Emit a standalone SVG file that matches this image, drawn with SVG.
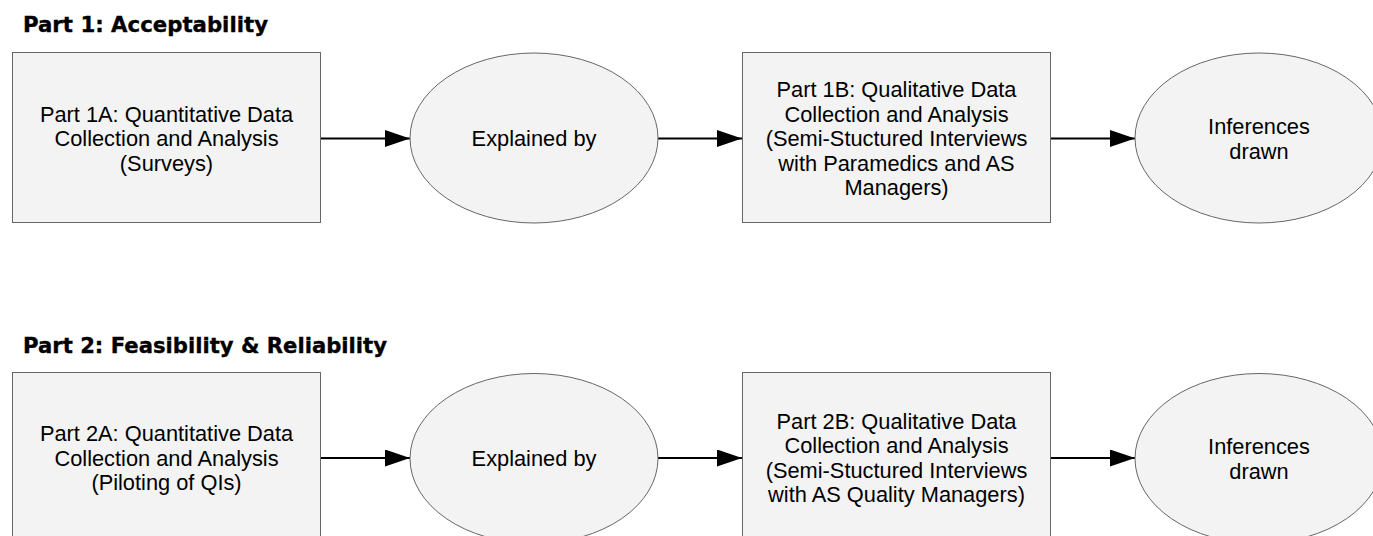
<svg xmlns="http://www.w3.org/2000/svg" width="1373" height="536" viewBox="0 0 1373 536">
<style>
.bg{fill:#ffffff}
.node{fill:#f3f3f3;stroke:#666666;stroke-width:1}
.lbl{font-family:"Liberation Sans",Arial,sans-serif;font-size:21.8px;fill:#000;text-anchor:middle}
.title{font-family:"DejaVu Sans","Liberation Sans",sans-serif;font-weight:bold;font-size:21.5px;fill:#000;stroke:#000;stroke-width:0.35}
.conn{stroke:#000;stroke-width:2;fill:none;marker-end:url(#ah)}
</style>
<defs>
<marker id="ah" markerUnits="userSpaceOnUse" markerWidth="25" markerHeight="17" refX="25" refY="8.5" orient="auto">
<path d="M0,0 L25,8.5 L0,17 z" fill="#000"/>
</marker>
</defs>
<rect class="bg" x="0" y="0" width="1373" height="536"/>
<text class="title" x="23" y="32" textLength="245" lengthAdjust="spacingAndGlyphs">Part 1: Acceptability</text>
<text class="title" x="23" y="353" textLength="364" lengthAdjust="spacingAndGlyphs">Part 2: Feasibility &amp; Reliability</text>
<g id="connectors">
<line class="conn" x1="320.5" y1="138.5" x2="410" y2="138.5"/>
<line class="conn" x1="658" y1="138.5" x2="742" y2="138.5"/>
<line class="conn" x1="1050.5" y1="138.5" x2="1135" y2="138.5"/>
<line class="conn" x1="320.5" y1="458" x2="410" y2="458"/>
<line class="conn" x1="658" y1="458" x2="742" y2="458"/>
<line class="conn" x1="1050.5" y1="458" x2="1135" y2="458"/>
</g>
<g id="part1a">
<rect class="node" x="12.5" y="52.5" width="308" height="170"/>
<text class="lbl" x="166.5" y="121.5">Part 1A: Quantitative Data</text>
<text class="lbl" x="166.5" y="146">Collection and Analysis</text>
<text class="lbl" x="166.5" y="170.5">(Surveys)</text>
</g>
<g id="explained1">
<ellipse class="node" cx="534" cy="138" rx="124" ry="85"/>
<text class="lbl" x="534" y="146">Explained by</text>
</g>
<g id="part1b">
<rect class="node" x="742.5" y="52.5" width="308" height="170"/>
<text class="lbl" x="896.5" y="97">Part 1B: Qualitative Data</text>
<text class="lbl" x="896.5" y="121.5">Collection and Analysis</text>
<text class="lbl" x="896.5" y="146">(Semi-Stuctured Interviews</text>
<text class="lbl" x="896.5" y="170.5">with Paramedics and AS</text>
<text class="lbl" x="896.5" y="195">Managers)</text>
</g>
<g id="inferences1">
<ellipse class="node" cx="1259" cy="138" rx="124" ry="85"/>
<text class="lbl" x="1259" y="134">Inferences</text>
<text class="lbl" x="1259" y="158.5">drawn</text>
</g>
<g id="part2a">
<rect class="node" x="12.5" y="372.5" width="308" height="170"/>
<text class="lbl" x="166.5" y="441">Part 2A: Quantitative Data</text>
<text class="lbl" x="166.5" y="465.5">Collection and Analysis</text>
<text class="lbl" x="166.5" y="490">(Piloting of QIs)</text>
</g>
<g id="explained2">
<ellipse class="node" cx="534" cy="458.5" rx="124" ry="85"/>
<text class="lbl" x="534" y="466">Explained by</text>
</g>
<g id="part2b">
<rect class="node" x="742.5" y="372.5" width="308" height="170"/>
<text class="lbl" x="896.5" y="428.5">Part 2B: Qualitative Data</text>
<text class="lbl" x="896.5" y="453">Collection and Analysis</text>
<text class="lbl" x="896.5" y="477.5">(Semi-Stuctured Interviews</text>
<text class="lbl" x="896.5" y="502">with AS Quality Managers)</text>
</g>
<g id="inferences2">
<ellipse class="node" cx="1259" cy="458.5" rx="124" ry="85"/>
<text class="lbl" x="1259" y="454">Inferences</text>
<text class="lbl" x="1259" y="478.5">drawn</text>
</g>
</svg>
